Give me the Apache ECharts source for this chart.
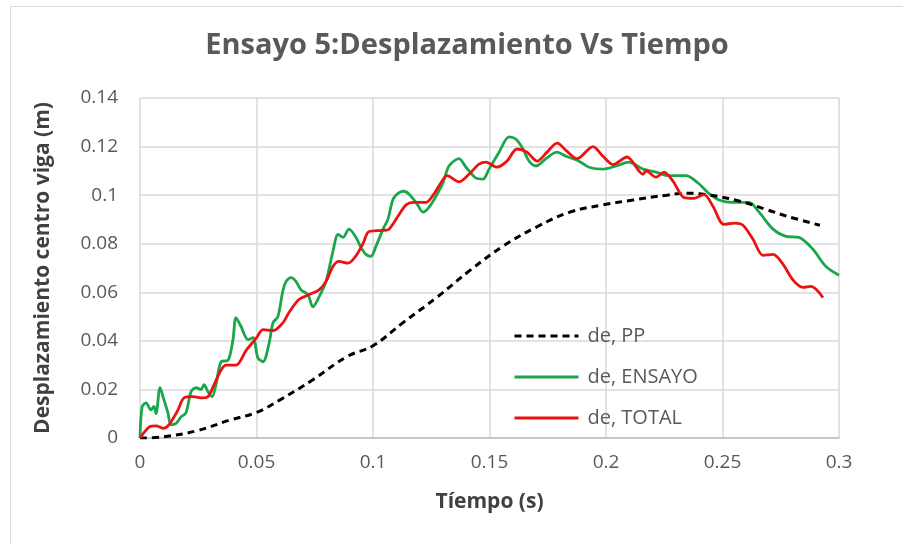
<!DOCTYPE html>
<html>
<head>
<meta charset="utf-8">
<script src="https://cdn.jsdelivr.net/npm/echarts@6/dist/echarts.min.js"></script>
<style>
html,body{margin:0;padding:0;background:#fff;}
#chart{width:903px;height:544px;}
</style>
</head>
<body>
<div id="chart"></div>
<script>
// ---- data ----
const titleText = "Ensayo 5:Desplazamiento Vs Tiempo";
const xAxisName = "Tíempo (s)";
const yAxisName = "Desplazamiento centro viga (m)";
const seriesNames = ["de, PP", "de, ENSAYO", "de, TOTAL"];

const ppData = [
  [0,0],[0.01,0.0005],[0.0245,0.003],[0.0386,0.0074],[0.05,0.0105],[0.0601,0.0157],
  [0.0742,0.024],[0.0888,0.0335],[0.1,0.038],[0.1129,0.0475],[0.1275,0.058],[0.1416,0.069],
  [0.1558,0.079],[0.1704,0.087],[0.1845,0.093],[0.1987,0.096],[0.2116,0.098],[0.2262,0.1],
  [0.2348,0.1008],[0.2446,0.1],[0.2575,0.0975],[0.2691,0.094],[0.2777,0.0913],[0.2918,0.0876]
];

const ensayoData = [
  [0,0],[0.0009,0.0128],[0.0026,0.0145],[0.0047,0.0116],[0.006,0.013],[0.0069,0.01],
  [0.0086,0.0207],[0.0103,0.0157],[0.012,0.0103],[0.0133,0.0054],[0.0155,0.006],[0.0176,0.0087],
  [0.0197,0.0103],[0.0219,0.019],[0.024,0.0207],[0.0262,0.02],[0.0275,0.022],[0.0292,0.019],
  [0.0309,0.017],[0.0326,0.022],[0.0348,0.0314],[0.0378,0.032],[0.0399,0.0405],[0.0412,0.0496],
  [0.0433,0.046],[0.0464,0.0405],[0.0485,0.0413],[0.0506,0.033],[0.0528,0.0314],[0.0554,0.039],
  [0.0571,0.0475],[0.0592,0.05],[0.0614,0.061],[0.0627,0.0644],[0.0648,0.066],[0.067,0.0644],
  [0.0691,0.061],[0.0721,0.059],[0.0742,0.054],[0.0768,0.058],[0.0798,0.0644],[0.0828,0.0768],
  [0.085,0.0838],[0.0871,0.0826],[0.0897,0.086],[0.0927,0.0826],[0.0948,0.0785],[0.097,0.0756],
  [0.0991,0.0748],[0.1013,0.079],[0.1043,0.086],[0.1064,0.09],[0.1086,0.0983],[0.1112,0.101],
  [0.1133,0.1016],[0.1155,0.1004],[0.1185,0.097],[0.1215,0.093],[0.124,0.095],[0.127,0.0995],
  [0.13,0.105],[0.1326,0.112],[0.1369,0.115],[0.1399,0.1115],[0.1442,0.107],[0.1472,0.1066],
  [0.1498,0.1107],[0.1541,0.1177],[0.1584,0.124],[0.1614,0.123],[0.1644,0.119],[0.167,0.114],
  [0.17,0.112],[0.1742,0.115],[0.179,0.1177],[0.1828,0.116],[0.1884,0.114],[0.1927,0.1115],
  [0.1987,0.1107],[0.2043,0.112],[0.2099,0.1136],[0.2159,0.1107],[0.2215,0.1095],[0.227,0.108],
  [0.2343,0.108],[0.2395,0.105],[0.2438,0.101],[0.2485,0.098],[0.2545,0.097],[0.2614,0.097],
  [0.2657,0.093],[0.2717,0.086],[0.2773,0.083],[0.2828,0.0826],[0.2888,0.0777],[0.2944,0.0706],
  [0.3,0.067]
];

const totalData = [
  [0,0],[0.0039,0.0045],[0.0069,0.005],[0.0099,0.004],[0.0124,0.0054],[0.0163,0.0116],
  [0.0189,0.0165],[0.0227,0.017],[0.027,0.0165],[0.0292,0.017],[0.0318,0.022],[0.0348,0.028],
  [0.0369,0.03],[0.0412,0.03],[0.0455,0.036],[0.0498,0.041],[0.0528,0.0446],[0.0571,0.0442],
  [0.0614,0.0475],[0.0639,0.0516],[0.0682,0.057],[0.0725,0.059],[0.0768,0.061],[0.0798,0.0644],
  [0.0828,0.0706],[0.0854,0.0727],[0.0893,0.072],[0.0927,0.075],[0.0957,0.08],[0.0983,0.085],
  [0.1043,0.0855],[0.1069,0.086],[0.1112,0.092],[0.1142,0.096],[0.1172,0.097],[0.1227,0.097],
  [0.1258,0.1],[0.1288,0.1045],[0.1318,0.108],[0.1369,0.1055],[0.1412,0.1086],[0.1455,0.1128],
  [0.1485,0.1136],[0.1532,0.1115],[0.1575,0.114],[0.1618,0.119],[0.1661,0.1177],[0.1704,0.114],
  [0.1747,0.1177],[0.179,0.1214],[0.1833,0.118],[0.1876,0.115],[0.1944,0.12],[0.1987,0.116],
  [0.203,0.1126],[0.209,0.1157],[0.2159,0.1086],[0.2172,0.11],[0.2215,0.1074],[0.2249,0.1095],
  [0.2288,0.1057],[0.2335,0.099],[0.2378,0.0987],[0.2421,0.1002],[0.2459,0.0954],[0.2506,0.088],
  [0.2554,0.0885],[0.2588,0.0876],[0.2631,0.0818],[0.2674,0.0752],[0.2717,0.0756],[0.276,0.0715],
  [0.2803,0.065],[0.2845,0.062],[0.288,0.0624],[0.2931,0.0578]
];

const xTicks = [0, 0.05, 0.1, 0.15, 0.2, 0.25, 0.3];
const yTicks = [0, 0.02, 0.04, 0.06, 0.08, 0.1, 0.12, 0.14];

// ---- chart ----
const chart = echarts.init(document.getElementById('chart'), null, {renderer: 'canvas'});
const fontFam = '"Open Sans", "Noto Sans", sans-serif';
const gridColor = '#d9d9d9';
const labelColor = '#595959';

chart.setOption({
  backgroundColor: '#ffffff',
  animation: false,
  graphic: [{
    type: 'rect', silent: true, z: -10,
    shape: {x: 10.5, y: 6.5, width: 900, height: 545},
    style: {fill: '#ffffff', stroke: '#d9d9d9', lineWidth: 1}
  }],
  title: {
    text: titleText, left: 462, textAlign: 'center', top: 26,
    textStyle: {fontFamily: fontFam, fontSize: 29, fontWeight: 'bold', color: labelColor}
  },
  grid: {left: 140, right: 64, top: 98, bottom: 106, containLabel: false},
  legend: {
    orient: 'vertical', left: 508, top: 321, itemGap: 21,
    itemWidth: 64, itemHeight: 22,
    data: seriesNames,
    itemStyle: {opacity: 0},
    lineStyle: {width: 3},
    textStyle: {fontFamily: fontFam, fontSize: 20, color: labelColor, padding: [0,0,0,4]}
  },
  xAxis: {
    type: 'value', min: 0, max: 0.3, interval: 0.05,
    name: xAxisName, nameLocation: 'middle', nameGap: 54,
    nameTextStyle: {fontFamily: fontFam, fontSize: 21, fontWeight: 'bold', color: '#404040'},
    axisLine: {show: true, lineStyle: {color: '#bfbfbf', width: 1.5}},
    axisTick: {show: false},
    axisLabel: {fontFamily: fontFam, fontSize: 19, color: labelColor, margin: 15,
      formatter: v => String(+v.toFixed(4))},
    splitLine: {show: true, lineStyle: {color: gridColor, width: 1.5}}
  },
  yAxis: {
    type: 'value', min: 0, max: 0.14, interval: 0.02,
    name: yAxisName, nameLocation: 'middle', nameGap: 86, nameRotate: 90,
    nameTextStyle: {fontFamily: fontFam, fontSize: 21, fontWeight: 'bold', color: '#404040'},
    axisLine: {show: false},
    axisTick: {show: false},
    axisLabel: {fontFamily: fontFam, fontSize: 19, color: labelColor, margin: 22,
      formatter: v => String(+v.toFixed(4))},
    splitLine: {show: true, lineStyle: {color: gridColor, width: 1.5}}
  },
  series: [
    {
      name: seriesNames[0], type: 'line', data: ppData, smooth: 0.4,
      symbol: 'none', showSymbol: false, z: 3,
      lineStyle: {color: '#000000', width: 3, type: [7, 5]},
      itemStyle: {color: '#000000'}
    },
    {
      name: seriesNames[1], type: 'line', data: ensayoData, smooth: 0.3,
      symbol: 'none', showSymbol: false, z: 2,
      lineStyle: {color: '#1aa64b', width: 2.8},
      itemStyle: {color: '#1aa64b'}
    },
    {
      name: seriesNames[2], type: 'line', data: totalData, smooth: 0.3,
      symbol: 'none', showSymbol: false, z: 4,
      lineStyle: {color: '#ee1111', width: 2.8},
      itemStyle: {color: '#ee1111'}
    }
  ]
});
</script>
</body>
</html>
